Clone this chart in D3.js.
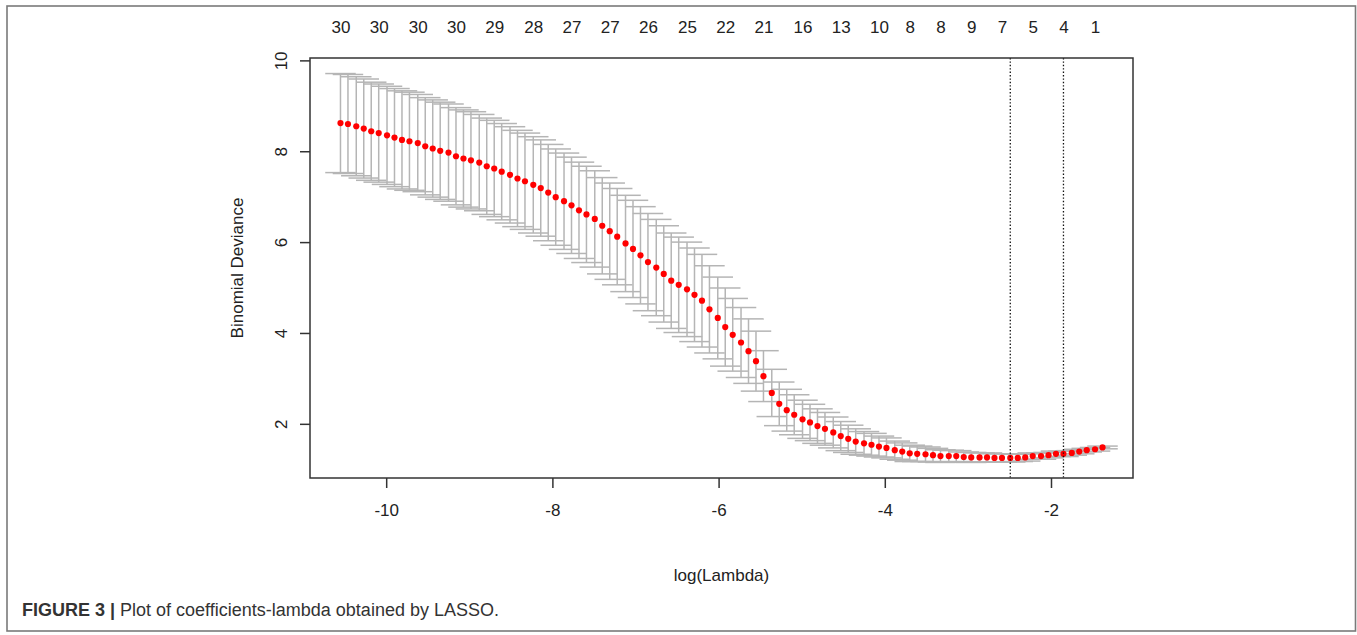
<!DOCTYPE html>
<html><head><meta charset="utf-8">
<script src="https://cdn.jsdelivr.net/npm/d3@7"></script>
<style>
body{margin:0;background:#fff}
svg{display:block}
text{font-family:"Liberation Sans",Arial,Helvetica,sans-serif}
</style>
</head><body>
<svg id="chart" width="1357" height="635"></svg>
<script>
// ---- data ----
const logLambda = [-10.55,-10.46,-10.36,-10.27,-10.18,-10.09,-9.99,-9.90,-9.81,-9.72,
  -9.62,-9.53,-9.44,-9.35,-9.25,-9.16,-9.07,-8.98,-8.88,-8.79,
  -8.70,-8.61,-8.51,-8.42,-8.33,-8.23,-8.14,-8.05,-7.96,-7.86,
  -7.77,-7.68,-7.59,-7.49,-7.40,-7.31,-7.22,-7.12,-7.03,-6.94,
  -6.85,-6.75,-6.66,-6.57,-6.48,-6.38,-6.29,-6.20,-6.11,-6.01,
  -5.92,-5.83,-5.73,-5.64,-5.55,-5.46,-5.36,-5.27,-5.18,-5.09,
  -4.99,-4.90,-4.81,-4.72,-4.62,-4.53,-4.44,-4.35,-4.25,-4.16,
  -4.07,-3.98,-3.88,-3.79,-3.70,-3.61,-3.51,-3.42,-3.33,-3.23,
  -3.14,-3.05,-2.96,-2.86,-2.77,-2.68,-2.59,-2.49,-2.40,-2.31,
  -2.22,-2.12,-2.03,-1.94,-1.85,-1.75,-1.66,-1.57,-1.47,-1.38];
const cvm = [8.62,8.60,8.55,8.50,8.44,8.40,8.35,8.30,8.25,8.22,
  8.18,8.11,8.06,8.01,7.97,7.89,7.84,7.80,7.75,7.67,
  7.62,7.55,7.48,7.40,7.34,7.26,7.19,7.09,6.99,6.90,
  6.81,6.70,6.61,6.51,6.36,6.24,6.12,5.97,5.85,5.71,
  5.56,5.44,5.30,5.15,5.06,4.96,4.84,4.71,4.52,4.33,
  4.13,3.96,3.79,3.60,3.38,3.05,2.68,2.44,2.30,2.20,
  2.10,2.03,1.95,1.89,1.81,1.73,1.67,1.61,1.57,1.54,
  1.50,1.47,1.42,1.39,1.35,1.34,1.33,1.31,1.29,1.29,
  1.29,1.27,1.26,1.26,1.26,1.25,1.25,1.25,1.25,1.26,
  1.29,1.29,1.31,1.34,1.34,1.36,1.39,1.42,1.44,1.48];
const cvsd = [1.09,1.09,1.09,1.09,1.08,1.08,1.08,1.08,1.08,1.08,
  1.07,1.07,1.07,1.07,1.07,1.07,1.07,1.07,1.06,1.06,
  1.06,1.06,1.06,1.06,1.06,1.06,1.06,1.06,1.06,1.06,
  1.06,1.06,1.06,1.06,1.06,1.06,1.06,1.06,1.07,1.07,
  1.07,1.06,1.06,1.05,1.05,1.04,1.03,1.02,0.96,0.90,
  0.86,0.80,0.77,0.71,0.66,0.56,0.52,0.48,0.46,0.44,
  0.42,0.40,0.38,0.36,0.34,0.32,0.30,0.28,0.26,0.25,
  0.23,0.22,0.20,0.19,0.18,0.17,0.16,0.15,0.14,0.13,
  0.12,0.11,0.11,0.10,0.10,0.09,0.09,0.09,0.08,0.08,
  0.07,0.07,0.06,0.06,0.06,0.05,0.05,0.04,0.04,0.03];
const nzPos = [-10.55,-10.09,-9.62,-9.16,-8.70,-8.23,-7.77,-7.31,-6.85,-6.38,
  -5.92,-5.46,-4.99,-4.53,-4.07,-3.70,-3.33,-2.96,-2.59,-2.22,-1.85,-1.47];
const nzLabels = ["30","30","30","30","29","28","27","27","26","25",
  "22","21","16","13","10","8","8","9","7","5","4","1"];
const xTicks = [-10,-8,-6,-4,-2];
const yTicks = [2,4,6,8,10];
const refLines = [-2.49,-1.85];
const xTitle = "log(Lambda)";
const yTitle = "Binomial Deviance";
const captionBold = "FIGURE 3 |";
const captionText = " Plot of coefficients-lambda obtained by LASSO.";

// ---- layout ----
const L = 310, R = 1133, T = 58, B = 478;
const svg = d3.select("#chart");

function padExtent(ext){ const r = ext[1]-ext[0]; return [ext[0]-0.04*r, ext[1]+0.04*r]; }
const upper = cvm.map((v,i)=>v+cvsd[i]);
const lower = cvm.map((v,i)=>v-cvsd[i]);
const x = d3.scaleLinear().domain(padExtent(d3.extent(logLambda))).range([L,R]);
const y = d3.scaleLinear().domain(padExtent([d3.min(lower), d3.max(upper)])).range([B,T]);

// outer figure border
svg.append("rect").attr("x",7).attr("y",6).attr("width",1348.5).attr("height",625)
  .attr("fill","none").attr("stroke","#7a7a7a").attr("stroke-width",1.6);

// error bars
const barw = (d3.max(logLambda)-d3.min(logLambda))*0.02;
const eb = svg.append("g").attr("stroke","#b5b5b5").attr("stroke-width",1.5).attr("fill","none");
logLambda.forEach((lx,i)=>{
  eb.append("line").attr("x1",x(lx)).attr("x2",x(lx)).attr("y1",y(upper[i])).attr("y2",y(lower[i]));
  eb.append("line").attr("x1",x(lx-barw)).attr("x2",x(lx+barw)).attr("y1",y(upper[i])).attr("y2",y(upper[i]));
  eb.append("line").attr("x1",x(lx-barw)).attr("x2",x(lx+barw)).attr("y1",y(lower[i])).attr("y2",y(lower[i]));
});

// points
svg.append("g").selectAll("circle").data(logLambda).join("circle")
  .attr("cx",d=>x(d)).attr("cy",(d,i)=>y(cvm[i])).attr("r",3.1).attr("fill","#ff0000");

// reference lines
svg.append("g").selectAll("line").data(refLines).join("line")
  .attr("x1",d=>x(d)).attr("x2",d=>x(d)).attr("y1",T).attr("y2",B)
  .attr("stroke","#111").attr("stroke-width",1.3).attr("stroke-dasharray","1.4,2");

// box
svg.append("rect").attr("x",L).attr("y",T).attr("width",R-L).attr("height",B-T)
  .attr("fill","none").attr("stroke","#333").attr("stroke-width",1.5);

// bottom axis
const gx = svg.append("g").attr("transform",`translate(0,${B})`)
  .call(d3.axisBottom(x).tickValues(xTicks).tickSize(10).tickSizeOuter(0).tickPadding(16).tickFormat(d=>d));
gx.select(".domain").remove();
gx.selectAll(".tick line").attr("stroke","#333").attr("stroke-width",1.5);
gx.selectAll("text").attr("font-size",17).attr("fill","#222").style("font-family",'"Liberation Sans",Arial,sans-serif');

// left axis
const gy = svg.append("g").attr("transform",`translate(${L},0)`)
  .call(d3.axisLeft(y).tickValues(yTicks).tickSize(10).tickSizeOuter(0).tickFormat(d=>d));
gy.select(".domain").remove();
gy.selectAll(".tick line").attr("stroke","#333").attr("stroke-width",1.5);
gy.selectAll("text").attr("x",0).attr("dy",0).attr("text-anchor","middle")
  .attr("transform","translate(-23,0) rotate(-90)")
  .attr("font-size",17).attr("fill","#222").style("font-family",'"Liberation Sans",Arial,sans-serif');

// top axis (number of nonzero coefficients)
const gt = svg.append("g").attr("transform",`translate(0,${T})`)
  .call(d3.axisTop(x).tickValues(nzPos).tickSize(0).tickPadding(25).tickFormat((d,i)=>nzLabels[i]));
gt.select(".domain").remove();
gt.selectAll(".tick line").remove();
gt.selectAll("text").attr("font-size",17).attr("fill","#222").style("font-family",'"Liberation Sans",Arial,sans-serif');

// titles
svg.append("text").attr("x",(L+R)/2).attr("y",581).attr("text-anchor","middle")
  .attr("font-size",17).attr("fill","#222").text(xTitle);
svg.append("text").attr("transform",`translate(243,${(T+B)/2}) rotate(-90)`).attr("text-anchor","middle")
  .attr("font-size",17).attr("fill","#222").text(yTitle);

// caption
const cap = svg.append("text").attr("x",22).attr("y",616).attr("font-size",18).attr("fill","#333");
cap.append("tspan").attr("font-weight","bold").text(captionBold);
cap.append("tspan").text(captionText);
</script>
</body></html>
